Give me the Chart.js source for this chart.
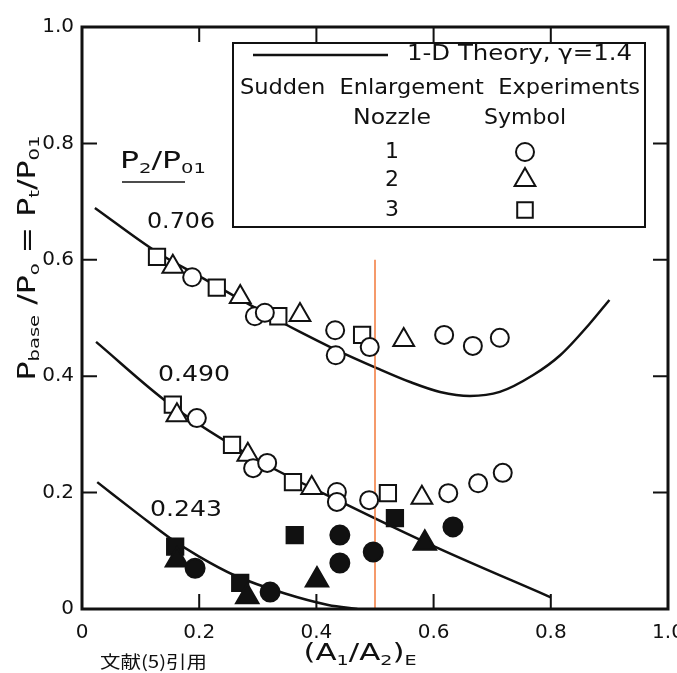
<!DOCTYPE html>
<html>
<head>
<meta charset="utf-8">
<script src="https://cdn.jsdelivr.net/npm/chart.js@4.4.0/dist/chart.umd.min.js"></script>
<style>
  html, body { margin: 0; padding: 0; background: #fff; }
  #wrap { width: 677px; height: 673px; }
</style>
</head>
<body>
<div id="wrap"><canvas id="baseChart" width="677" height="673"></canvas></div>
<script>
// axis ticks
const tickValues = [0.2, 0.4, 0.6, 0.8];

// 1-D theory curves (gamma = 1.4), one per P2/P01
const theory706X = [0.022, 0.128, 0.2, 0.3, 0.372, 0.428, 0.503, 0.56, 0.611, 0.662, 0.713, 0.77, 0.816, 0.867, 0.9];
const theory706Y = [0.689, 0.613, 0.572, 0.515, 0.476, 0.448, 0.414, 0.39, 0.373, 0.366, 0.373, 0.402, 0.436, 0.491, 0.531];
const theory490X = [0.024, 0.15, 0.3, 0.45, 0.6, 0.8];
const theory490Y = [0.459, 0.352, 0.256, 0.18, 0.108, 0.02];
const theory243X = [0.026, 0.1, 0.15, 0.2, 0.26, 0.345, 0.42, 0.47];
const theory243Y = [0.218, 0.16, 0.122, 0.09, 0.058, 0.027, 0.007, 0];

// orange marker line
const markX = [0.5, 0.5];
const markY = [0, 0.6];

// nozzle 1 (circle), open = 0.706 and 0.490
const noz1OpenX = [0.188, 0.295, 0.312, 0.432, 0.433, 0.491, 0.618, 0.667, 0.713,
                   0.196, 0.292, 0.316, 0.435, 0.435, 0.49, 0.625, 0.676, 0.718];
const noz1OpenY = [0.570, 0.503, 0.509, 0.479, 0.436, 0.450, 0.471, 0.452, 0.466,
                   0.328, 0.242, 0.251, 0.201, 0.184, 0.187, 0.199, 0.216, 0.234];
// nozzle 2 (triangle)
const noz2OpenX = [0.155, 0.27, 0.372, 0.549, 0.162, 0.283, 0.392, 0.58];
const noz2OpenY = [0.588, 0.536, 0.505, 0.462, 0.333, 0.265, 0.208, 0.191];
// nozzle 3 (square)
const noz3OpenX = [0.128, 0.23, 0.335, 0.478, 0.155, 0.256, 0.36, 0.522];
const noz3OpenY = [0.605, 0.552, 0.503, 0.471, 0.351, 0.282, 0.218, 0.199];

// filled symbols = 0.243
const noz1FillX = [0.193, 0.321, 0.44, 0.44, 0.497, 0.633];
const noz1FillY = [0.07, 0.029, 0.127, 0.079, 0.098, 0.141];
const noz2FillX = [0.162, 0.282, 0.401, 0.585];
const noz2FillY = [0.084, 0.021, 0.05, 0.113];
const noz3FillX = [0.159, 0.27, 0.363, 0.534];
const noz3FillY = [0.107, 0.045, 0.127, 0.156];

const fontMain = '"DejaVu Sans", sans-serif';

function pts(xs, ys) {
  return xs.map((x, i) => ({ x: x, y: ys[i] }));
}

function curve(xs, ys) {
  return {
    data: pts(xs, ys), showLine: true, pointRadius: 0, borderColor: '#111',
    borderWidth: 2.5, cubicInterpolationMode: 'monotone', fill: false, order: 2
  };
}

function symbols(xs, ys, style, r, filled) {
  return {
    data: pts(xs, ys), showLine: false, pointStyle: style, pointRadius: r,
    backgroundColor: filled ? '#111' : '#fff', borderColor: '#111', borderWidth: 2, order: 0
  };
}

// text squeezed/stretched to a width, like the scan
function fitText(ctx, text, x, y, w, size, align) {
  ctx.save();
  ctx.font = size + 'px ' + fontMain;
  ctx.textBaseline = 'middle';
  ctx.textAlign = 'left';
  let tw = ctx.measureText(text).width;
  let x0 = align == 'center' ? x - w / 2 : x;
  ctx.translate(x0, y);
  ctx.scale(w / tw, 1);
  ctx.fillText(text, 0, 0);
  ctx.restore();
}

// text with subscripts: parts = [[text, isSub], ...]
function richText(ctx, parts, cx, cy, w, size, rotate) {
  ctx.save();
  ctx.textBaseline = 'alphabetic';
  ctx.textAlign = 'left';
  let total = 0;
  parts.forEach(p => {
    ctx.font = (p[1] ? size * 0.62 : size) + 'px ' + fontMain;
    total += ctx.measureText(p[0]).width;
  });
  ctx.translate(cx, cy);
  if (rotate) ctx.rotate(-Math.PI / 2);
  ctx.scale(w / total, 1);
  let x = -total / 2;
  parts.forEach(p => {
    ctx.font = (p[1] ? size * 0.62 : size) + 'px ' + fontMain;
    ctx.fillText(p[0], x, p[1] ? size * 0.55 : size * 0.36);
    x += ctx.measureText(p[0]).width;
  });
  ctx.restore();
}

const decorPlugin = {
  id: 'decor',
  afterDraw(chart) {
    const ctx = chart.ctx;
    const a = chart.chartArea;
    const xs = chart.scales.x, ys = chart.scales.y;
    ctx.save();
    ctx.strokeStyle = '#111';
    ctx.fillStyle = '#111';

    // frame
    ctx.lineWidth = 3;
    ctx.strokeRect(a.left, a.top, a.right - a.left, a.bottom - a.top);

    // inward ticks on all four sides
    ctx.lineWidth = 2;
    tickValues.forEach(v => {
      let px = xs.getPixelForValue(v);
      let py = ys.getPixelForValue(v);
      ctx.beginPath();
      ctx.moveTo(px, a.bottom); ctx.lineTo(px, a.bottom - 15);
      ctx.moveTo(px, a.top); ctx.lineTo(px, a.top + 15);
      ctx.moveTo(a.left, py); ctx.lineTo(a.left + 15, py);
      ctx.moveTo(a.right, py); ctx.lineTo(a.right - 15, py);
      ctx.stroke();
    });

    // curve labels
    fitText(ctx, '0.706', 147, 222, 68, 22, 'left');
    fitText(ctx, '0.490', 158, 375, 72, 22, 'left');
    fitText(ctx, '0.243', 150, 510, 72, 22, 'left');
    richText(ctx, [['P', 0], ['2', 1], ['/P', 0], ['01', 1]], 163, 160, 86, 23, false);
    ctx.lineWidth = 1.5;
    ctx.beginPath();
    ctx.moveTo(122, 182); ctx.lineTo(185, 182);
    ctx.stroke();

    // axis titles
    richText(ctx, [['P', 0], ['base', 1], [' /P', 0], ['o', 1], [' = P', 0], ['t', 1], ['/P', 0], ['01', 1]],
      26, 258, 245, 24, true);
    richText(ctx, [['(A', 0], ['1', 1], ['/A', 0], ['2', 1], [')', 0], ['E', 1]], 360, 652, 113, 23, false);
    ctx.save();
    ctx.font = '17px "Noto Sans CJK JP", sans-serif';
    ctx.textBaseline = 'middle';
    ctx.textAlign = 'left';
    let jw = ctx.measureText('文献(5)引用').width;
    ctx.translate(100, 662);
    ctx.scale(107 / jw, 1);
    ctx.fillText('文献(5)引用', 0, 0);
    ctx.restore();

    // legend box
    ctx.lineWidth = 2;
    ctx.strokeRect(233, 43, 412, 184);
    ctx.lineWidth = 2.5;
    ctx.beginPath();
    ctx.moveTo(253, 55); ctx.lineTo(388, 55);
    ctx.stroke();
    fitText(ctx, '1-D Theory, \u03b3=1.4', 407, 55, 225, 21, 'left');
    fitText(ctx, 'Sudden  Enlargement  Experiments', 240, 88, 400, 22, 'left');
    fitText(ctx, 'Nozzle', 392, 118, 78, 22, 'center');
    fitText(ctx, 'Symbol', 525, 118, 82, 22, 'center');
    [['1', 152, 'circle', 9], ['2', 180, 'triangle', 12], ['3', 210, 'rect', 11]].forEach(r => {
      ctx.font = '22px ' + fontMain;
      ctx.textAlign = 'center';
      ctx.textBaseline = 'middle';
      ctx.fillText(r[0], 392, r[1]);
      ctx.fillStyle = '#fff';
      ctx.lineWidth = 2;
      Chart.helpers.drawPoint(ctx, { pointStyle: r[2], radius: r[3], rotation: 0, borderWidth: 2 }, 525, r[1]);
      ctx.fillStyle = '#111';
    });
    ctx.restore();
  }
};

new Chart('baseChart', {
  type: 'scatter',
  data: {
    datasets: [
      symbols(noz1OpenX, noz1OpenY, 'circle', 9, false),
      symbols(noz2OpenX, noz2OpenY, 'triangle', 12, false),
      symbols(noz3OpenX, noz3OpenY, 'rect', 11.5, false),
      symbols(noz1FillX, noz1FillY, 'circle', 9.5, true),
      symbols(noz2FillX, noz2FillY, 'triangle', 13, true),
      symbols(noz3FillX, noz3FillY, 'rect', 11.5, true),
      {
        data: pts(markX, markY), showLine: true, pointRadius: 0,
        borderColor: '#f2793a', borderWidth: 1.5, order: 1
      },
      curve(theory706X, theory706Y),
      curve(theory490X, theory490Y),
      curve(theory243X, theory243Y)
    ]
  },
  options: {
    responsive: false,
    animation: false,
    layout: { padding: { top: 27, right: 9, left: 0, bottom: 0 }, autoPadding: false },
    plugins: { legend: { display: false }, tooltip: { enabled: false } },
    scales: {
      x: {
        type: 'linear', min: 0, max: 1,
        ticks: {
          stepSize: 0.2, padding: 12, color: '#111',
          font: { family: fontMain, size: 20 },
          callback: v => v == 0 ? '0' : v.toFixed(1)
        },
        grid: { display: false, drawTicks: false },
        border: { display: false },
        afterFit(s) { s.height = 64; s.paddingLeft = 0; s.paddingRight = 0; }
      },
      y: {
        type: 'linear', min: 0, max: 1,
        ticks: {
          stepSize: 0.2, padding: 8, color: '#111',
          font: { family: fontMain, size: 20 },
          callback: v => v == 0 ? '0' : v.toFixed(1)
        },
        grid: { display: false, drawTicks: false },
        border: { display: false },
        afterFit(s) { s.width = 82; s.paddingTop = 0; s.paddingBottom = 0; }
      }
    }
  },
  plugins: [decorPlugin]
});
</script>
</body>
</html>
